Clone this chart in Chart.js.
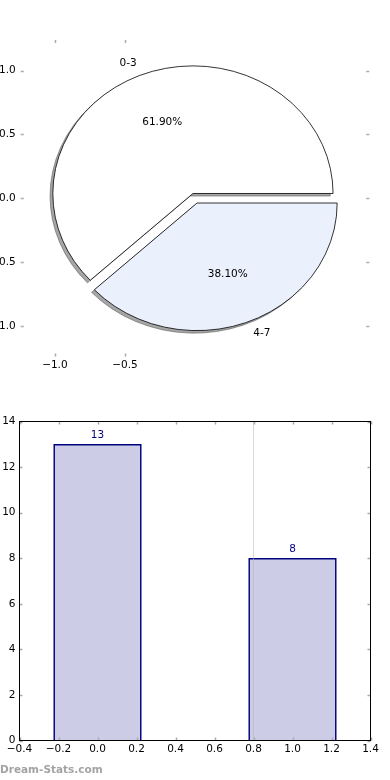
<!DOCTYPE html>
<html>
<head>
<meta charset="utf-8">
<script src="https://cdn.jsdelivr.net/npm/chart.js@4.4.1/dist/chart.umd.min.js"></script>
<style>
  body { margin: 0; background: #fff; width: 390px; height: 780px; overflow: hidden; position: relative; }
  canvas { position: absolute; left: 0; }
  #pie { top: 0; }
  #bars { top: 390px; }
  .brand { position: absolute; left: 0; top: 763px; font: bold 10.5px "DejaVu Sans", sans-serif; color: #a3a3a3; }
</style>
</head>
<body>
<canvas id="pie" width="390" height="390"></canvas>
<canvas id="bars" width="390" height="390"></canvas>
<div class="brand">Dream-Stats.com</div>
<script>
// pie panel
const pieLabels = ["0-3", "4-7"];
const pieValues = [13, 8];
const pieColors = ["#ffffff", "#eaf0fc"];
const pieExplode = [0.04, 0.04];
const pieXTicks = [-1.0, -0.5];
const pieYTicks = [-1.0, -0.5, 0.0, 0.5, 1.0];

// bar panel
const barX = [0, 1];
const barValues = [13, 8];
const barWidth = 0.45;
const barXTicks = [-0.4, -0.2, 0.0, 0.2, 0.4, 0.6, 0.8, 1.0, 1.2, 1.4];
const barYTicks = [0, 2, 4, 6, 8, 10, 12, 14];
const markerX = 0.8;

const FONT = "10.5px 'DejaVu Sans', sans-serif";
Chart.defaults.font.family = "'DejaVu Sans', sans-serif";
Chart.defaults.font.size = 10.5;
Chart.defaults.color = "#000";

const fmt1 = v => (v < -1e-9 ? "\u2212" : "") + Math.abs(v).toFixed(1);

// matplotlib-like tick marks, pointing into the axes
const innerTicks = {
  id: "innerTicks",
  afterDatasetsDraw(chart, args, opts) {
    const { ctx, chartArea: a, scales: { x, y } } = chart;
    ctx.save();
    ctx.strokeStyle = opts.color;
    ctx.lineWidth = opts.width;
    ctx.beginPath();
    x.ticks.forEach(t => {
      const px = Math.round(x.getPixelForValue(t.value)) + 0.5;
      ctx.moveTo(px, a.top); ctx.lineTo(px, a.top + opts.length);
      ctx.moveTo(px, a.bottom); ctx.lineTo(px, a.bottom - opts.length);
    });
    y.ticks.forEach(t => {
      const py = Math.round(y.getPixelForValue(t.value)) + 0.5;
      ctx.moveTo(a.left, py); ctx.lineTo(a.left + opts.length, py);
      ctx.moveTo(a.right, py); ctx.lineTo(a.right - opts.length, py);
    });
    ctx.stroke();
    if (opts.frame) {
      ctx.strokeStyle = opts.frame;
      ctx.lineWidth = 1;
      ctx.strokeRect(a.left, a.top, a.width, a.height);
    }
    ctx.restore();
  }
};

const pieWedges = {
  id: "pieWedges",
  beforeDatasetsDraw(chart) {
    const { ctx, scales: { x, y } } = chart;
    const total = pieValues.reduce((s, v) => s + v, 0);
    const rx = x.getPixelForValue(1) - x.getPixelForValue(0);
    const ry = y.getPixelForValue(0) - y.getPixelForValue(1);
    let start = 0;
    const wedges = pieValues.map((v, i) => {
      const sweep = v / total * 2 * Math.PI;
      const mid = start + sweep / 2;
      const w = { i, v, a0: start, a1: start + sweep, mid,
        cx: pieExplode[i] * Math.cos(mid), cy: pieExplode[i] * Math.sin(mid) };
      start += sweep;
      return w;
    });
    const path = (w, dx, dy) => {
      const px = x.getPixelForValue(w.cx + dx), py = y.getPixelForValue(w.cy + dy);
      ctx.beginPath();
      ctx.moveTo(px, py);
      ctx.ellipse(px, py, rx, ry, 0, -w.a0, -w.a1, true);
      ctx.closePath();
    };
    ctx.save();
    // shadows
    wedges.forEach(w => {
      path(w, -0.02, -0.02);
      ctx.fillStyle = "rgba(77,77,77,0.5)";
      ctx.strokeStyle = "rgba(77,77,77,0.5)";
      ctx.lineWidth = 1;
      ctx.fill();
      ctx.stroke();
    });
    wedges.forEach(w => {
      path(w, 0, 0);
      ctx.fillStyle = pieColors[w.i];
      ctx.fill();
      ctx.strokeStyle = "#000";
      ctx.lineWidth = 0.8;
      ctx.stroke();
    });
    ctx.fillStyle = "#000";
    ctx.font = FONT;
    ctx.textBaseline = "middle";
    wedges.forEach(w => {
      const c = Math.cos(w.mid), s = Math.sin(w.mid);
      ctx.textAlign = c > 0 ? "left" : "right";
      ctx.fillText(pieLabels[w.i], x.getPixelForValue(w.cx + 1.1 * c), y.getPixelForValue(w.cy + 1.1 * s));
      ctx.textAlign = "center";
      ctx.fillText((w.v / total * 100).toFixed(2) + "%",
        x.getPixelForValue(w.cx + 0.6 * c), y.getPixelForValue(w.cy + 0.6 * s));
    });
    ctx.restore();
  }
};

new Chart(document.getElementById("pie"), {
  type: "scatter",
  data: { datasets: [{ data: [] }] },
  options: {
    responsive: false,
    animation: false,
    devicePixelRatio: 1,
    layout: { padding: { top: 40, right: 20.7, left: 0, bottom: 0 } },
    plugins: {
      legend: { display: false },
      tooltip: { enabled: false },
      innerTicks: { color: "#aaa", width: 1.5, length: 3 }
    },
    scales: {
      x: {
        type: "linear", min: -1.244, max: 1.244,
        grid: { display: false, drawTicks: false },
        border: { display: false },
        afterBuildTicks: s => { s.ticks = pieXTicks.map(v => ({ value: v })); },
        afterFit: s => { s.height = 33.5; },
        ticks: { padding: 2, maxRotation: 0, callback: v => fmt1(v) }
      },
      y: {
        type: "linear", min: -1.24, max: 1.24,
        grid: { display: false, drawTicks: false },
        border: { display: false },
        afterBuildTicks: s => { s.ticks = pieYTicks.map(v => ({ value: v })); },
        afterFit: s => { s.width = 20.7; },
        ticks: { padding: 5, callback: v => fmt1(v) }
      }
    }
  },
  plugins: [pieWedges, innerTicks]
});

const barValueLabels = {
  id: "barValueLabels",
  afterDatasetsDraw(chart) {
    const { ctx } = chart;
    chart.data.datasets.forEach((ds, di) => {
      if (ds.type !== "bar") return;
      chart.getDatasetMeta(di).data.forEach((el, i) => {
        ctx.save();
        ctx.fillStyle = "#000080";
        ctx.font = FONT;
        ctx.textAlign = "center";
        ctx.textBaseline = "middle";
        ctx.fillText(String(barValues[i]), el.x, el.y - 9);
        ctx.restore();
      });
    });
  }
};

new Chart(document.getElementById("bars"), {
  type: "bar",
  data: {
    datasets: [
      {
        type: "line",
        order: 0,
        data: [{ x: markerX, y: barYTicks[0] }, { x: markerX, y: barYTicks[barYTicks.length - 1] }],
        borderColor: "#b4b4b4",
        borderWidth: 1,
        borderDash: [1, 1],
        pointRadius: 0
      },
      {
        type: "bar",
        order: 1,
        data: barX.map((x, i) => ({ x, y: barValues[i] })),
        backgroundColor: "rgba(0, 0, 128, 0.2)",
        borderColor: "#000080",
        borderWidth: 1,
        barThickness: c => {
          const s = c.chart.scales && c.chart.scales.x;
          if (!s) return undefined;
          return Math.abs(s.getPixelForValue(barWidth) - s.getPixelForValue(0));
        }
      }
    ]
  },
  options: {
    responsive: false,
    animation: false,
    devicePixelRatio: 1,
    layout: { padding: { top: 31.5, right: 19.5, left: 0, bottom: 0 } },
    plugins: {
      legend: { display: false },
      tooltip: { enabled: false },
      innerTicks: { color: "#aaa", width: 1.5, length: 3, frame: "#000" }
    },
    scales: {
      x: {
        type: "linear", min: -0.4, max: 1.4, offset: false,
        grid: { display: false, drawTicks: false, offset: false },
        border: { display: false },
        afterBuildTicks: s => { s.ticks = barXTicks.map(v => ({ value: v })); },
        afterFit: s => { s.height = 39.5; },
        ticks: { padding: 2, maxRotation: 0, autoSkip: false, callback: v => fmt1(v) }
      },
      y: {
        type: "linear", min: 0, max: 14,
        grid: { display: false, drawTicks: false },
        border: { display: false },
        afterBuildTicks: s => { s.ticks = barYTicks.map(v => ({ value: v })); },
        afterFit: s => { s.width = 19.5; },
        ticks: { padding: 4, callback: v => String(v) }
      }
    }
  },
  plugins: [innerTicks, barValueLabels]
});
</script>
</body>
</html>
